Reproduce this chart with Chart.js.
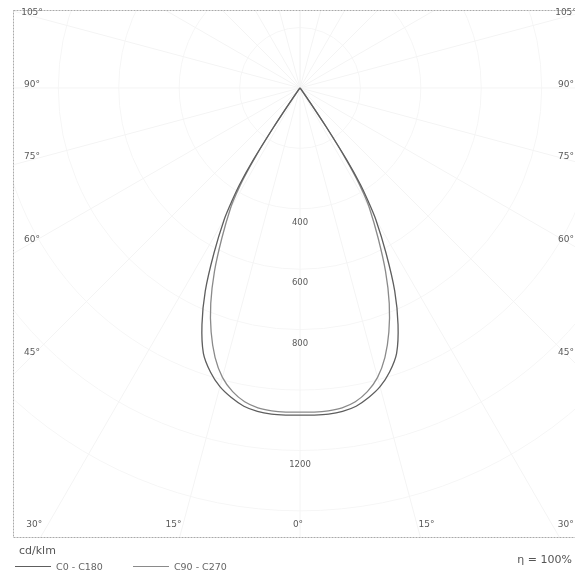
<!DOCTYPE html>
<html>
<head>
<meta charset="utf-8">
<script src="https://cdn.jsdelivr.net/npm/chart.js@4.4.1/dist/chart.umd.min.js"></script>
<style>
  html, body { margin: 0; padding: 0; background: #fff; overflow: hidden; width: 575px; height: 575px; }
  #wrap { position: absolute; left: 0; top: 0; width: 600px; height: 575px; }
  .txt { position: absolute; font-family: "DejaVu Sans", Verdana, sans-serif; color: #555; white-space: nowrap; }
  .leg { position: absolute; display: flex; align-items: center; font-family: "DejaVu Sans", sans-serif; font-size: 9.5px; color: #666; }
  .leg span.line { display: inline-block; width: 36px; height: 0; margin-right: 5px; }
</style>
</head>
<body>
<div id="wrap"><canvas id="c"></canvas></div>
<div class="txt" id="unit" style="left:19px; top:544px; font-size:11px;"></div>
<div class="leg" id="legend" style="left:15px; top:561px;"></div>
<div class="txt" id="eff" style="right:3px; top:553px; font-size:11px;"></div>
<script>
// ---- data (luminous intensity in cd/klm per gamma angle) ----
const gammaAngles      = [0, 2.5, 5, 7.5, 10, 12.5, 15, 17.5, 20, 22.5, 25, 27.5, 30, 31, 32, 33, 34, 35, 36, 38, 40, 50, 60, 70, 80, 90];
const intensityC0C180  = [1083, 1084, 1084, 1080, 1070, 1050, 1024, 986, 935, 848, 742, 617, 500, 440, 378, 282, 155, 55, 15, 3, 0, 0, 0, 0, 0, 0];
const intensityC90C270 = [1073, 1074, 1073, 1068, 1055, 1030, 992, 935, 860, 772, 670, 560, 460, 410, 350, 262, 142, 48, 12, 2, 0, 0, 0, 0, 0, 0];
const seriesNames      = ['C0 - C180', 'C90 - C270'];
const sideAngleLabels  = [105, 90, 75, 60, 45];
const bottomAngleLabels = [-30, -15, 0, 15, 30];
const ringValues       = [400, 600, 800, 1200];
const gridRings        = [200, 400, 600, 800, 1000, 1200, 1400];
const unitLabel        = 'cd/klm';
const efficiencyLabel  = 'η = 100%';

// polar (gamma, I) -> cartesian, y pointing downwards from the luminaire
function curve(vals) {
  const pts = [];
  for (let i = gammaAngles.length - 1; i >= 0; i--) {
    const a = gammaAngles[i] * Math.PI / 180;
    pts.push({ x: -vals[i] * Math.sin(a), y: vals[i] * Math.cos(a) });
  }
  for (let i = 1; i < gammaAngles.length; i++) {
    const a = gammaAngles[i] * Math.PI / 180;
    pts.push({ x: vals[i] * Math.sin(a), y: vals[i] * Math.cos(a) });
  }
  return pts;
}

const colors = ['#5e5e5e', '#8a8a8a'];

const polarDecor = {
  id: 'polarDecor',
  beforeDatasetsDraw(chart) {
    const { ctx, chartArea: ca, scales: { x, y } } = chart;
    const ox = x.getPixelForValue(0), oy = y.getPixelForValue(0);
    const k = x.getPixelForValue(100) - ox;
    ctx.save();
    ctx.beginPath(); ctx.rect(ca.left, ca.top, ca.right - ca.left, ca.bottom - ca.top); ctx.clip();
    ctx.strokeStyle = '#f6f6f6'; ctx.lineWidth = 1;
    gridRings.forEach(v => {
      ctx.beginPath(); ctx.arc(ox, oy, v * k / 100, 0, Math.PI * 2); ctx.stroke();
    });
    ctx.strokeStyle = '#f4f4f4';
    for (let a = -180; a <= 180; a += 15) {
      const r = a * Math.PI / 180;
      ctx.beginPath(); ctx.moveTo(ox, oy);
      ctx.lineTo(ox + 2000 * Math.sin(r), oy + 2000 * Math.cos(r)); ctx.stroke();
    }
    ctx.restore();
  },
  afterDraw(chart) {
    const { ctx, chartArea: ca, scales: { x, y } } = chart;
    const ox = x.getPixelForValue(0), oy = y.getPixelForValue(0);
    ctx.save();
    // frame
    ctx.strokeStyle = '#a9a9a9'; ctx.lineWidth = 1; ctx.setLineDash([2, 1]);
    ctx.strokeRect(ca.left + 0.5, ca.top + 0.5, ca.right - ca.left - 1, ca.bottom - ca.top - 1);
    ctx.setLineDash([]);
    ctx.fillStyle = '#5a5a5a';
    ctx.font = '9px "DejaVu Sans", sans-serif';
    ctx.textBaseline = 'middle';
    // side angle labels
    const dx = 268;
    sideAngleLabels.forEach(a => {
      const r = a * Math.PI / 180;
      const yy = oy + dx * Math.cos(r) / Math.sin(r) - 3;
      ctx.textAlign = 'center';
      ctx.fillText(a + '°', ox - dx, yy);
      ctx.fillText(a + '°', ox + dx - 2, yy);
    });
    // bottom angle labels
    const by = ca.bottom - 13;
    bottomAngleLabels.forEach(a => {
      const r = a * Math.PI / 180;
      const xx = ox + (ca.bottom - oy) * Math.tan(r);
      ctx.textAlign = a < 0 ? 'right' : (a > 0 ? 'left' : 'center');
      ctx.fillText(Math.abs(a) + '°', xx + (a < 0 ? 2 : -2), by);
    });
    // ring value labels
    ctx.textAlign = 'center';
    ctx.font = '8.5px "DejaVu Sans", sans-serif';
    ringValues.forEach(v => {
      ctx.fillText(String(v), ox, y.getPixelForValue(v) + 14);
    });
    ctx.restore();
  }
};

new Chart(document.getElementById('c'), {
  type: 'scatter',
  data: {
    datasets: [
      { label: seriesNames[0], data: curve(intensityC0C180), showLine: true, borderColor: colors[0], borderWidth: 1.3, pointRadius: 0, tension: 0.25, fill: false },
      { label: seriesNames[1], data: curve(intensityC90C270), showLine: true, borderColor: colors[1], borderWidth: 1.3, pointRadius: 0, tension: 0.25, fill: false }
    ]
  },
  options: {
    responsive: true,
    maintainAspectRatio: false,
    animation: false,
    layout: { padding: { left: 13, top: 10, right: 13, bottom: 37 } },
    plugins: { legend: { display: false }, tooltip: { enabled: false } },
    scales: {
      x: { type: 'linear', min: -950, max: 950, display: false },
      y: { type: 'linear', min: -258, max: 1490, reverse: true, display: false }
    }
  },
  plugins: [polarDecor]
});

document.getElementById('unit').textContent = unitLabel;
document.getElementById('eff').textContent = efficiencyLabel;
const leg = document.getElementById('legend');
seriesNames.forEach((n, i) => {
  const item = document.createElement('span');
  item.style.display = 'inline-flex'; item.style.alignItems = 'center';
  item.style.marginRight = i === 0 ? '30px' : '0';
  const ln = document.createElement('span');
  ln.className = 'line';
  ln.style.borderTop = '1px solid ' + colors[i];
  item.appendChild(ln);
  const t = document.createElement('span');
  t.textContent = n;
  item.appendChild(t);
  leg.appendChild(item);
});
</script>
</body>
</html>
